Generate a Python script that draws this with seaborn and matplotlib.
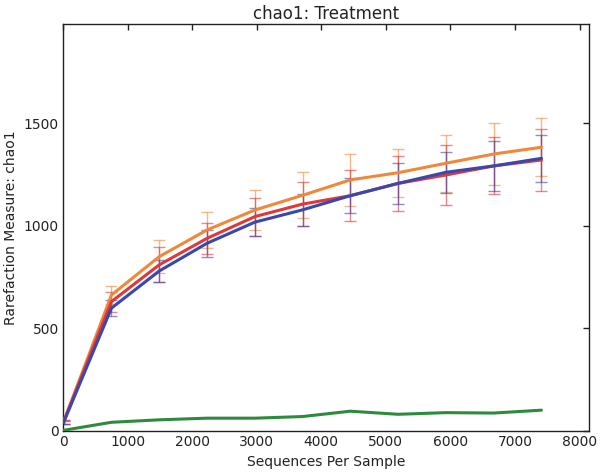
import numpy as np
import pandas as pd
import matplotlib
matplotlib.use("Agg")
import matplotlib.pyplot as plt
import seaborn as sns

seqs = [10, 750, 1490, 2230, 2970, 3710, 4450, 5190, 5930, 6670, 7410]

orange_mean = [45, 662, 849, 979, 1076, 1148, 1223, 1258, 1304, 1349, 1382]
orange_err = [10, 46, 81, 86, 98, 112, 126, 116, 138, 150, 141]
red_mean = [45, 630, 809, 938, 1044, 1105, 1146, 1206, 1247, 1291, 1320]
red_err = [10, 49, 85, 77, 92, 109, 125, 134, 146, 139, 150]
blue_mean = [42, 598, 779, 914, 1017, 1077, 1146, 1206, 1260, 1291, 1328]
blue_err = [8, 40, 55, 65, 68, 77, 85, 101, 101, 121, 114]
green_mean = [3, 42, 54, 62, 62, 70, 96, 81, 89, 87, 101]

series = {
    "orange": (orange_mean, orange_err, "#f0883a"),
    "red": (red_mean, red_err, "#e0383a"),
    "blue": (blue_mean, blue_err, "#3a48ab"),
    "green": (green_mean, None, "#2e8b3e"),
}

rows = []
for name, (m, e, c) in series.items():
    for x, v in zip(seqs, m):
        rows.append({"seqs": x, "value": v, "group": name})
df = pd.DataFrame(rows)

sns.set_style("white")
plt.rcParams["font.family"] = ["DejaVu Sans"]
fig = plt.figure(figsize=(6, 4.73), dpi=100)
ax = fig.add_axes([0.105, 0.089, 0.877, 0.860])

order = ["orange", "red", "blue", "green"]
palette = {k: series[k][2] for k in order}

for name in ["orange", "red", "blue"]:
    m, e, c = series[name]
    ax.errorbar(seqs, m, yerr=e, fmt="none", ecolor=c, alpha=0.6,
                elinewidth=1.0, capsize=4, capthick=1.0, zorder=2)

sns.lineplot(data=df, x="seqs", y="value", hue="group", hue_order=order,
             palette=palette, linewidth=2.2, legend=False, ax=ax,
             errorbar=None, zorder=3)

ax.set_xlim(0, 8150)
ax.set_ylim(0, 1982)
ax.set_xticks([0, 1000, 2000, 3000, 4000, 5000, 6000, 7000, 8000])
ax.set_yticks([0, 500, 1000, 1500])
ax.tick_params(direction="in", top=True, right=True, length=4, width=1,
               labelsize=10, colors="#222222", pad=3)
for s in ax.spines.values():
    s.set_color("#222222")
    s.set_linewidth(1.0)
ax.set_xlabel("Sequences Per Sample", fontsize=10, color="#222222")
ax.set_ylabel("Rarefaction Measure: chao1", fontsize=10, color="#222222")
ax.set_title("chao1: Treatment", fontsize=12, color="#222222", pad=4)

fig.savefig("out.png", dpi=100)
